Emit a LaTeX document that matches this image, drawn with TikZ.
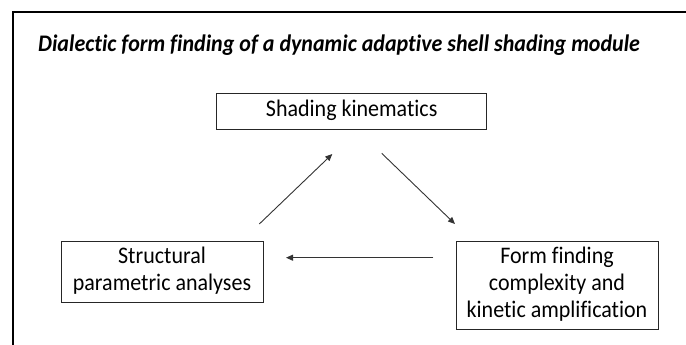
\documentclass[tikz,border=0pt]{standalone}
\usepackage{fontspec}
\setmainfont{Carlito}[Ligatures={NoCommon}]
\usetikzlibrary{arrows.meta}
\newcommand{\tallbox}[1]{\scalebox{1}[1.08]{\begin{tabular}{@{}c@{}}#1\end{tabular}}}
\begin{document}
\begin{tikzpicture}[x=1pt,y=-1pt,
  boxnode/.style={draw=black!85,line width=0.9pt,align=center,inner sep=0pt,
    font=\fontsize{22}{25}\selectfont},
  conn/.style={draw=black!80,line width=0.9pt,-{Triangle[length=7pt,width=6pt]}},
  frameline/.style={line width=2pt,black}]
\useasboundingbox (0,0) rectangle (686,345);
% frame (top and left sides visible)
\coordinate (ftr) at (686,12);
\coordinate (ftl) at (13,12);
\coordinate (fbl) at (13,345);
\draw[frameline] (ftr) -- (ftl) -- (fbl);
% title
\node[anchor=base west,inner sep=0pt,font=\fontsize{22}{26}\selectfont\bfseries\itshape] (title) at (38,52)
  {\scalebox{1}[1.08]{Dialectic form finding of a dynamic adaptive shell shading module}};
% boxes
\node[boxnode,minimum width=270pt,minimum height=35.7pt] (kin) at (351.7,111.2) {\tallbox{Shading kinematics}};
\node[boxnode,minimum width=202pt,minimum height=61pt] (struct) at (162,271.5) {\tallbox{Structural\\parametric analyses}};
\node[boxnode,minimum width=202pt,minimum height=88pt] (form) at (557,285) {\tallbox{Form finding\\complexity and\\kinetic amplification}};
% arrow ends
\coordinate (a1s) at (259.3,224);
\coordinate (a1e) at (332.3,154);
\coordinate (a2s) at (381.7,153.3);
\coordinate (a2e) at (455,224);
\coordinate (a3s) at (433.3,257.7);
\coordinate (a3e) at (286,257.7);
\draw[conn] (a1s) -- (a1e);
\draw[conn] (a2s) -- (a2e);
\draw[conn] (a3s) -- (a3e);
\end{tikzpicture}
\end{document}
